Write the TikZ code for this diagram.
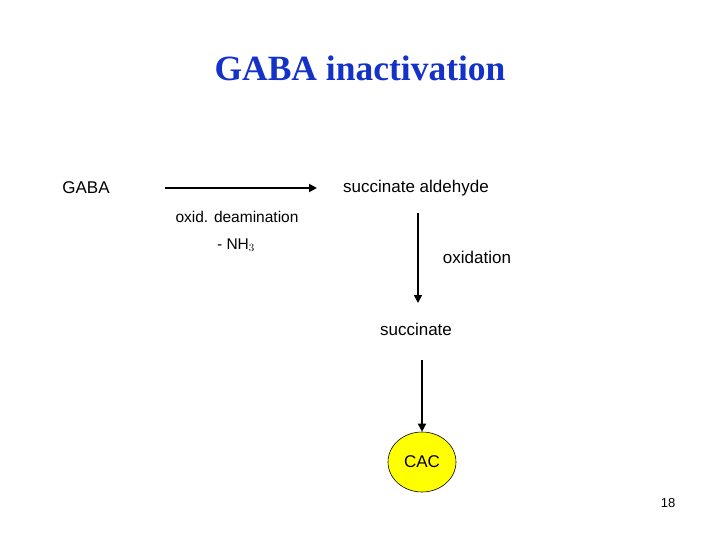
\documentclass[tikz,border=0pt]{standalone}
\usepackage{fontspec}
\setmainfont{Liberation Serif}
\setsansfont{Liberation Sans}
\usetikzlibrary{arrows.meta,shapes.geometric}
\definecolor{titleblue}{RGB}{20,50,200}
\definecolor{cacyellow}{RGB}{255,255,0}
\tikzset{
  lbl/.style={font=\sffamily\fontsize{17}{20}\selectfont, inner sep=0pt},
  small/.style={font=\sffamily\fontsize{15.5}{18}\selectfont, inner sep=0pt},
  arr/.style={-{Triangle[length=8pt,width=8pt]}, line width=1.8pt},
}
\begin{document}
\begin{tikzpicture}[x=1pt,y=-1pt]
\useasboundingbox (0,0) rectangle (720,540);
\node[font=\rmfamily\bfseries\fontsize{35.5}{40}\selectfont, text=titleblue, inner sep=0pt] (title) at (360,68) {GABA inactivation};
\node[lbl] (gaba) at (86,188) {GABA};
\node[lbl] (sa) at (416,188) {succinate aldehyde};
\coordinate (a1s) at (165,188);
\coordinate (a1e) at (317,188);
\draw[arr] (a1s) -- (a1e);
\node[small] (deam) at (237,217) {oxid. deamination};
\node[small] (nh3) at (236,245) {- NH$_3$};
\coordinate (a2s) at (418,213);
\coordinate (a2e) at (418,303);
\draw[arr, line width=1.6pt] (a2s) -- (a2e);
\node[lbl] (ox) at (477,257) {oxidation};
\node[lbl] (succ) at (416,329) {succinate};
\node[ellipse, draw=black, line width=0.6pt, fill=cacyellow, minimum width=68pt, minimum height=60pt, inner sep=0pt, font=\sffamily\fontsize{17}{20}\selectfont] (cac) at (422,462) {CAC};
\coordinate (a3s) at (422,360);
\draw[arr, line width=1.6pt] (a3s) -- (cac.north);
\node[font=\sffamily\fontsize{13}{15}\selectfont, inner sep=0pt] (pg) at (668,503) {18};
\end{tikzpicture}
\end{document}
